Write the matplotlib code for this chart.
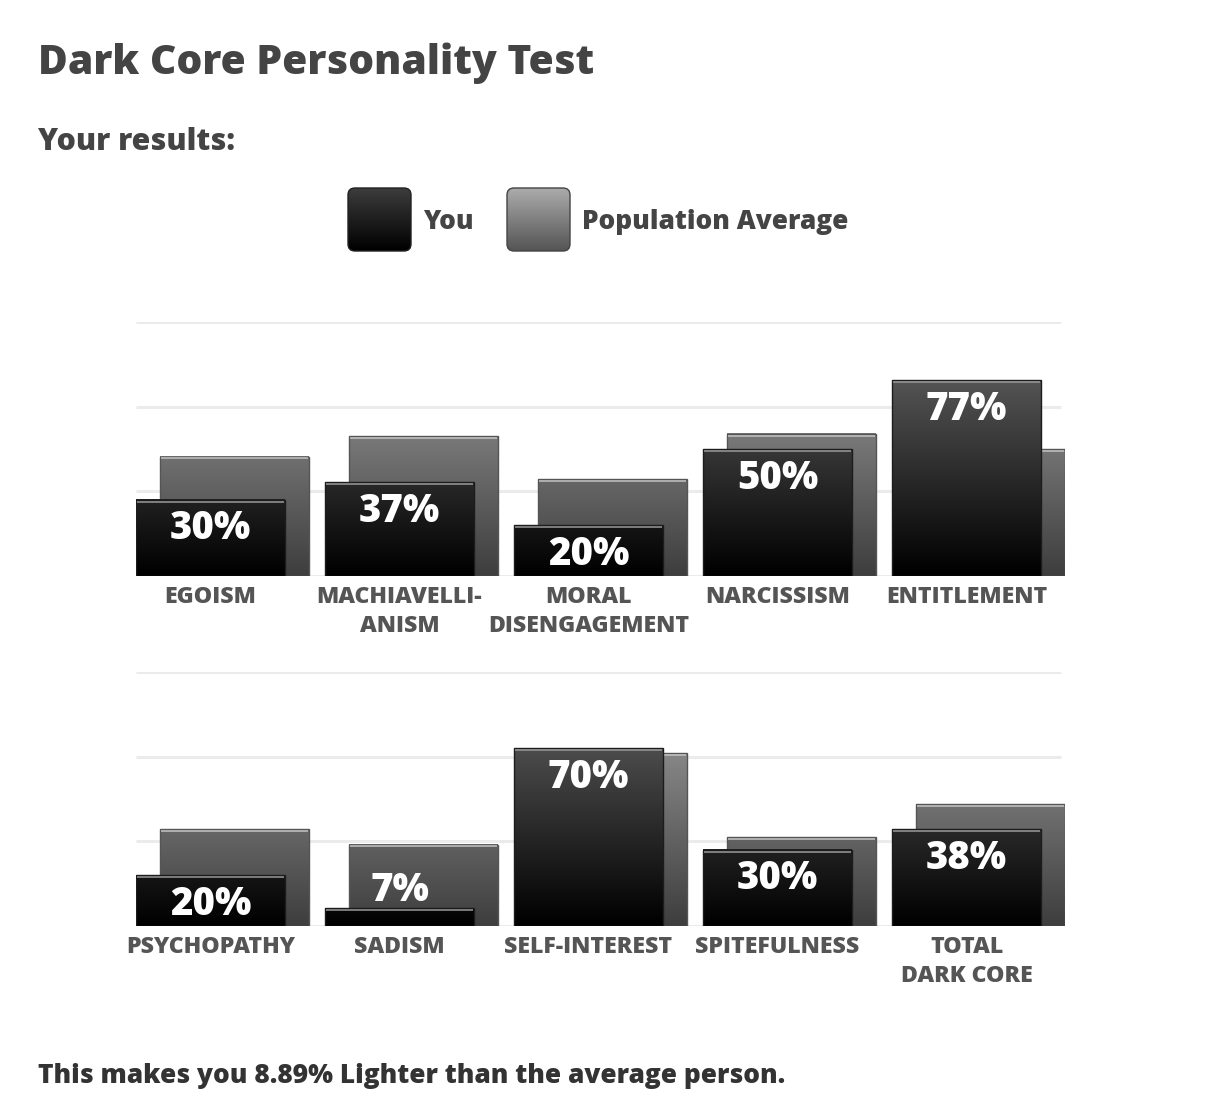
import numpy as np
import matplotlib
matplotlib.use("Agg")
import matplotlib.pyplot as plt
from matplotlib.colors import LinearSegmentedColormap
from matplotlib.patches import Rectangle, FancyBboxPatch

plt.rcParams['font.family'] = ['Open Sans', 'DejaVu Sans']
WEIGHT = 800

# data
top_labels = ["EGOISM", "MACHIAVELLI-\nANISM", "MORAL\nDISENGAGEMENT", "NARCISSISM", "ENTITLEMENT"]
top_you = [30, 37, 20, 50, 77]
top_avg = [47, 55, 38, 56, 50]

bottom_labels = ["PSYCHOPATHY", "SADISM", "SELF-INTEREST", "SPITEFULNESS", "TOTAL\nDARK CORE"]
bottom_you = [20, 7, 70, 30, 38]
bottom_avg = [38, 32, 68, 35, 48]

title = "Dark Core Personality Test"
subtitle = "Your results:"
footer = "This makes you 8.89% Lighter than the average person."

W, H = 1205, 1116
BAR_W = 0.788
AVG_OFF = 0.127

you_cmap = LinearSegmentedColormap.from_list("you", ["#000000", "#6c6c6c"])
avg_cmap = LinearSegmentedColormap.from_list("avg", ["#3e3e3e", "#a8a8a8"])

fig = plt.figure(figsize=(W / 100, H / 100), dpi=100)
page = fig.add_axes([0, 0, 1, 1])
page.set_xlim(0, W)
page.set_ylim(H, 0)
page.axis("off")


def gradient_bar(ax, x0, h, cmap, edge, hi, z):
    x1 = x0 + BAR_W
    grad = np.linspace(0, h, 80).reshape(-1, 1)
    ax.imshow(grad, extent=[x0, x1, 0, h], origin="lower", cmap=cmap,
              vmin=0, vmax=100, aspect="auto", zorder=z, interpolation="bilinear")
    ax.add_patch(Rectangle((x0, 0), BAR_W, h, fill=False, edgecolor=edge, lw=1.0, zorder=z + 0.1))
    ax.plot([x0 + 0.005, x1 - 0.005], [h - 0.7, h - 0.7], color=hi, lw=1.1, zorder=z + 0.2,
            solid_capstyle="butt")


def panel(baseline_px, top_px, labels, you, avg):
    ax = fig.add_axes([136 / W, (H - baseline_px) / H, (1065 - 136) / W, (baseline_px - top_px) / H])
    ax.axis("off")
    n = len(labels)
    for g in np.linspace(0, 100, 4):
        ax.plot([-BAR_W / 2, n - 1 + BAR_W / 2 + 0.105], [g, g], color="#ebebeb", lw=2.2, zorder=0,
                solid_capstyle="butt")
    for i in range(n):
        gradient_bar(ax, i - BAR_W / 2 + AVG_OFF, avg[i], avg_cmap, "#555555", "#c4c4c4", 2)
        gradient_bar(ax, i - BAR_W / 2, you[i], you_cmap, "#1c1c1c", "#9a9a9a", 4)
        # short bars get their label just above the bar
        dy = -21 if you[i] >= 15 else 12.5
        ax.annotate(f"{you[i]}%", (i, you[i]), xytext=(0, dy), textcoords="offset points",
                    ha="center", va="center", color="white", fontsize=27.5, fontweight=WEIGHT, zorder=6)
        for k, line in enumerate(labels[i].split("\n")):
            ax.annotate(line, (i, 0), xytext=(0, -19.5 - 21 * k), textcoords="offset points",
                        ha="center", va="baseline", color="#555555", fontsize=16.7,
                        fontweight=WEIGHT, annotation_clip=False)
    ax.set_xlim(-BAR_W / 2, n - 1 + BAR_W / 2 + AVG_OFF)
    ax.set_ylim(0, 100)
    return ax


panel(576, 322, top_labels, top_you, top_avg)
panel(926, 672, bottom_labels, bottom_you, bottom_avg)

# header and footer texts
page.text(38, 74, title, fontsize=29.3, color="#444444", fontweight=WEIGHT, va="baseline")
page.text(38, 150, subtitle, fontsize=21.8, color="#444444", fontweight=WEIGHT, va="baseline")
page.text(38, 1083, footer, fontsize=18.9, color="#333333", fontweight=WEIGHT, va="baseline")

# legend
legend = [("You", 348, ["#3c3c3c", "#000000"], "#222222"),
          ("Population Average", 507, ["#ababab", "#555555"], "#444444")]
for name, lx, cols, ec in legend:
    box = FancyBboxPatch((lx, 188), 63, 63, boxstyle="round,pad=0,rounding_size=7",
                         facecolor="none", edgecolor=ec, lw=1.0, zorder=3)
    page.add_patch(box)
    cm = LinearSegmentedColormap.from_list(name, cols)
    im = page.imshow(np.linspace(0, 1, 64).reshape(-1, 1), extent=[lx, lx + 63, 251, 188],
                     cmap=cm, aspect="auto", zorder=2)
    im.set_clip_path(box)
    page.text(lx + 75, 229, name, fontsize=18.9, color="#444444", fontweight=WEIGHT, va="baseline")
page.set_xlim(0, W)
page.set_ylim(H, 0)

fig.savefig("out.png", dpi=100, facecolor="white")
